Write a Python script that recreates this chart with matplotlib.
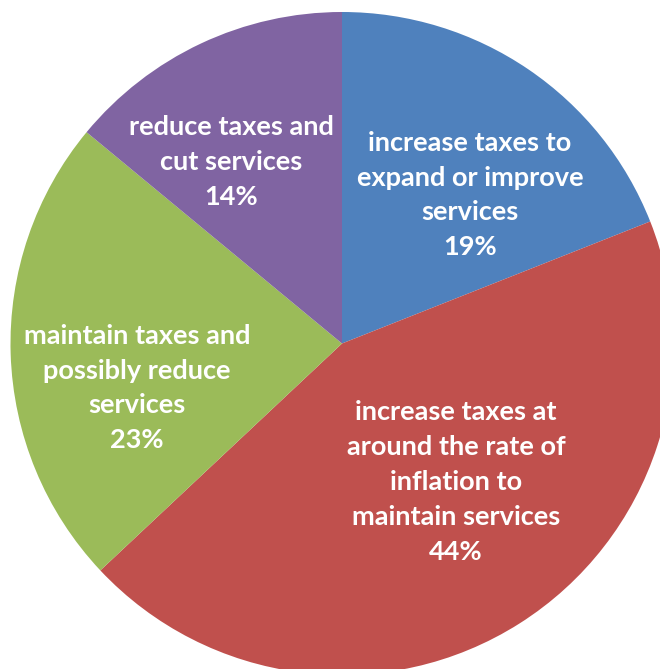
import matplotlib.pyplot as plt

labels = [
    "increase taxes to\nexpand or improve\nservices",
    "increase taxes at\naround the rate of\ninflation to\nmaintain services",
    "maintain taxes and\npossibly reduce\nservices",
    "reduce taxes and\ncut services",
]
shares = [19, 44, 23, 14]
colours = ["#4F81BD", "#C0504D", "#9BBB59", "#8064A2"]

# label anchor points in pixel space (x from left, y from top)
label_pos = [(470, 195), (456, 482), (137, 388), (231, 162)]

W, H = 660, 669
fig = plt.figure(figsize=(W / 100, H / 100), dpi=100)
ax = fig.add_axes([0, 0, 1, 1])

ax.pie(shares, colors=colours, startangle=90, counterclock=False,
       center=(342, H - 343.5), radius=331.5, frame=True,
       wedgeprops=dict(linewidth=0))
ax.set_xlim(0, W)
ax.set_ylim(0, H)
ax.set_aspect("equal")
ax.axis("off")

for lab, val, (px, py) in zip(labels, shares, label_pos):
    ax.text(px, H - py, f"{lab}\n{val}%", ha="center", va="center",
            color="white", fontsize=19.5, fontweight="bold",
            family="Lato", linespacing=1.54)

fig.savefig("out.png", dpi=100)
